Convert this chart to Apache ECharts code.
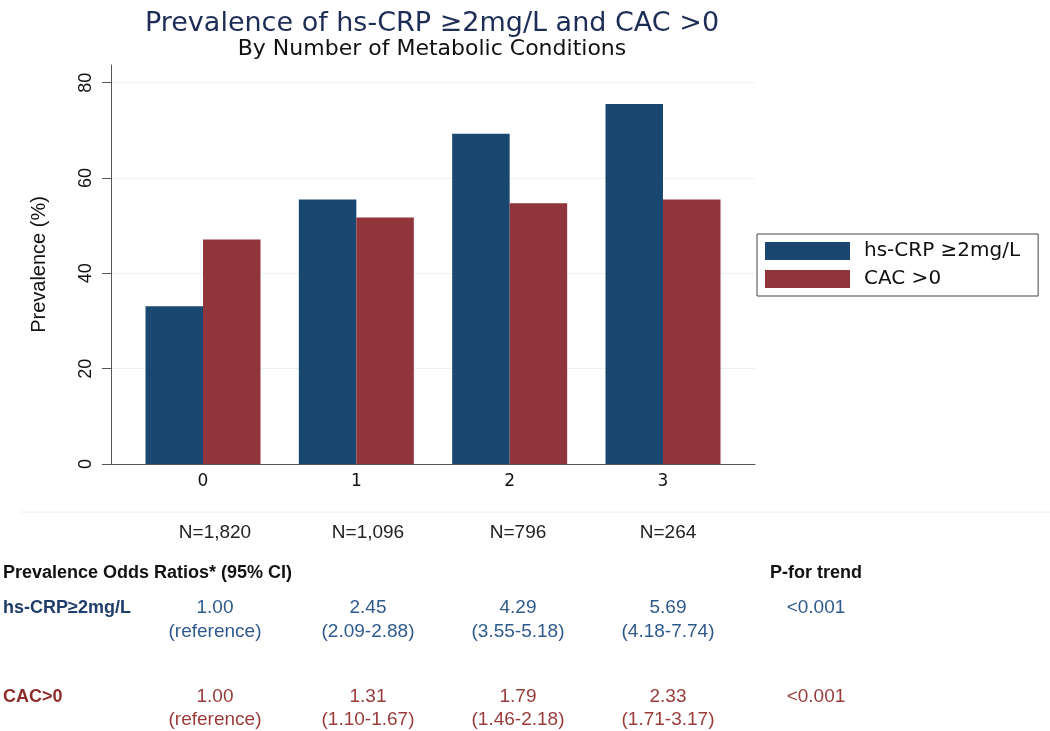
<!DOCTYPE html>
<html>
<head>
<meta charset="utf-8">
<script src="https://cdn.jsdelivr.net/npm/echarts@6/dist/echarts.min.js"></script>
<style>
html,body{margin:0;padding:0;background:#fff;}
#chart{width:1050px;height:731px;}
</style>
</head>
<body>
<div id="chart"></div>
<script>
// ---- data ----
const categories = ['0', '1', '2', '3'];
const hsCrp = [33.1, 55.5, 69.3, 75.5];
const cac = [47.1, 51.7, 54.7, 55.5];
const yTicks = [0, 20, 40, 60, 80];
const seriesNames = ['hs-CRP \u22652mg/L', 'CAC >0'];
const nLabels = ['N=1,820', 'N=1,096', 'N=796', 'N=264'];
const orHs = ['1.00', '2.45', '4.29', '5.69'];
const ciHs = ['(reference)', '(2.09-2.88)', '(3.55-5.18)', '(4.18-7.74)'];
const orCac = ['1.00', '1.31', '1.79', '2.33'];
const ciCac = ['(reference)', '(1.10-1.67)', '(1.46-2.18)', '(1.71-3.17)'];
const pTrend = ['<0.001', '<0.001'];
const tableHeader = 'Prevalence Odds Ratios* (95% CI)';
const pHeader = 'P-for trend';
const rowNames = ['hs-CRP\u22652mg/L', 'CAC>0'];

// ---- layout ----
const BLUE = '#1a476f', RED = '#90353b';
const colX = [215, 368, 518, 668];
const pX = 816;
const tFont = '"Liberation Sans", Arial, sans-serif';
const wide = '"DejaVu Sans", "Liberation Sans", sans-serif';
const graphics = [];
graphics.push({type: 'line', shape: {x1: 20, y1: 512, x2: 1050, y2: 512}, style: {stroke: '#eeeeee', lineWidth: 1}});
function ctext(cx, cy, s, color, bold) {
  graphics.push({
    type: 'text', x: cx, y: cy,
    style: {text: s, fill: color, font: (bold ? 'bold 18px ' : '19px ') + tFont, align: 'center', verticalAlign: 'middle'}
  });
}
function ltext(x, cy, s, color, bold) {
  graphics.push({
    type: 'text', x: x, y: cy,
    style: {text: s, fill: color, font: (bold ? 'bold 18px ' : '19px ') + tFont, align: 'left', verticalAlign: 'middle'}
  });
}
nLabels.forEach((s, i) => ctext(colX[i], 533, s, '#222', false));
ltext(3, 573, tableHeader, '#111', true);
ctext(pX, 573, pHeader, '#111', true);
ltext(3, 608, rowNames[0], '#1f3d6b', true);
orHs.forEach((s, i) => ctext(colX[i], 608, s, '#2f5a8e', false));
ciHs.forEach((s, i) => ctext(colX[i], 632, s, '#2f5a8e', false));
ctext(pX, 608, pTrend[0], '#2f5a8e', false);
ltext(3, 697, rowNames[1], '#8e2c2c', true);
orCac.forEach((s, i) => ctext(colX[i], 697, s, '#9a3b3b', false));
ciCac.forEach((s, i) => ctext(colX[i], 720, s, '#9a3b3b', false));
ctext(pX, 697, pTrend[1], '#9a3b3b', false);

const chart = echarts.init(document.getElementById('chart'), null, {renderer: 'canvas'});
const font = '"Liberation Sans", Arial, Helvetica, sans-serif';
const option = {
  backgroundColor: '#fff',
  animation: false,
  title: [
    {text: 'Prevalence of hs-CRP \u22652mg/L and CAC >0', left: 432, top: 10, textAlign: 'center', padding: 0,
     textStyle: {fontFamily: wide, fontSize: 27, fontWeight: 'normal', color: '#1d2d55'}},
    {text: 'By Number of Metabolic Conditions', left: 432, top: 38, textAlign: 'center', padding: 0,
     textStyle: {fontFamily: wide, fontSize: 22, fontWeight: 'normal', color: '#111'}}
  ],
  legend: {
    orient: 'vertical', left: 757, top: 234,
    data: seriesNames,
    itemWidth: 85, itemHeight: 18, itemGap: 8,
    icon: 'rect',
    borderColor: '#444', borderWidth: 1, borderRadius: 0,
    padding: [7, 18, 7, 8],
    textStyle: {fontFamily: wide, fontSize: 20, color: '#111', padding: [0, 0, 0, 9]}
  },
  grid: {left: 111, top: 65, width: 644, height: 399, containLabel: false},
  xAxis: {
    type: 'value', min: -0.6, max: 3.6,
    axisLine: {show: true, onZero: false, lineStyle: {color: '#555', width: 1}},
    axisTick: {show: false},
    splitLine: {show: false},
    axisLabel: {customValues: categories.map(Number), formatter: v => String(v), fontFamily: wide, fontSize: 17, color: '#111', margin: 9}
  },
  yAxis: {
    type: 'value', min: 0, max: 83.7,
    name: 'Prevalence (%)', nameLocation: 'middle', nameGap: 62, nameRotate: 90,
    nameTextStyle: {fontFamily: font, fontSize: 20, color: '#111'},
    axisLine: {show: true, onZero: false, lineStyle: {color: '#555', width: 1}},
    axisTick: {show: true, length: 9, customValues: yTicks, lineStyle: {color: '#555'}},
    axisLabel: {customValues: yTicks, rotate: 90, fontFamily: font, fontSize: 18, color: '#111', margin: 16},
    splitLine: {show: true, lineStyle: {color: '#eaf2f3', width: 1}}
  },
  series: [
    {name: seriesNames[0], type: 'bar', barWidth: 57.5, barGap: '0%', z: 2,
     itemStyle: {color: BLUE}, data: hsCrp.map((v, i) => [Number(categories[i]), v])},
    {name: seriesNames[1], type: 'bar', barWidth: 57.5, barGap: '0%', z: 2,
     itemStyle: {color: RED}, data: cac.map((v, i) => [Number(categories[i]), v])}
  ],
  graphic: graphics
};
chart.setOption(option);
</script>
</body>
</html>
